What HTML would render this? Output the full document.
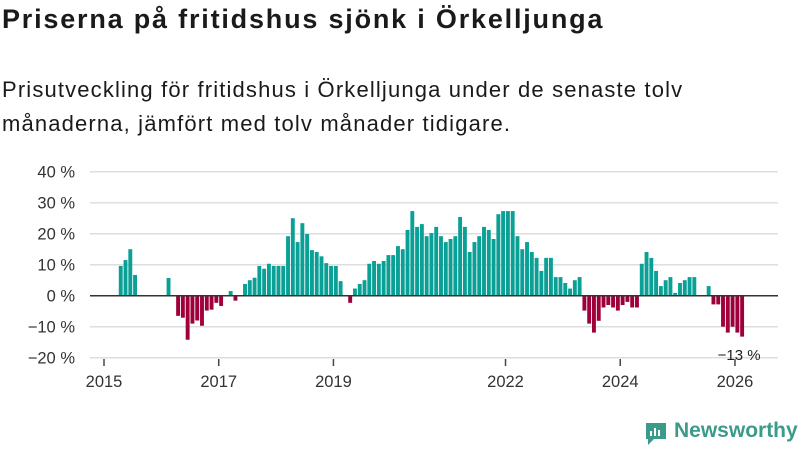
<!DOCTYPE html>
<html><head><meta charset="utf-8"><style>
body{margin:0;width:800px;height:450px;background:#fff;overflow:hidden;font-family:"Liberation Sans","DejaVu Sans",sans-serif;color:#1a1a1a;position:relative}
#title{position:absolute;left:2px;top:4px;font-size:27px;font-weight:bold;margin:0;letter-spacing:1.8px;white-space:nowrap}
#sub{position:absolute;left:2px;top:73px;font-size:22px;line-height:34px;margin:0;width:740px;letter-spacing:1.15px}
svg{position:absolute;left:0;top:0}
#logo{position:absolute;left:644px;top:419px;font-size:21px;font-weight:bold;color:#3b9b8a}
</style></head><body>
<h1 id="title">Priserna på fritidshus sjönk i Örkelljunga</h1>
<p id="sub">Prisutveckling för fritidshus i Örkelljunga under de senaste tolv<br>månaderna, jämfört med tolv månader tidigare.</p>
<svg id="chart" width="800" height="450"></svg>
<div id="logo"><svg width="24" height="26" style="position:absolute;left:0;top:2px"><path d="M2 2h20v16h-12l-6 6v-6h-2z" fill="#3b9b8a"/><rect x="6" y="10" width="2" height="5" fill="#fff"/><rect x="10" y="7" width="2" height="8" fill="#fff"/><rect x="14" y="9" width="2" height="6" fill="#fff"/></svg><span style="margin-left:30px">Newsworthy</span></div>
<script>
// month index 0 = Jan 2015
const monthIdx=[3,4,5,6,13,15,16,17,18,19,20,21,22,23,24,26,27,
29,30,31,32,33,34,35,36,37,38,39,40,41,42,43,44,45,46,47,48,49,51,
52,53,54,55,56,57,58,59,60,61,62,63,64,65,66,67,68,69,70,71,72,73,74,75,76,77,78,79,80,81,82,83,84,85,86,87,88,89,90,91,92,93,94,95,96,97,98,
99,100,101,102,103,104,105,106,107,108,109,110,111,112,113,114,115,116,117,118,119,120,121,122,123,126,127,128,129,130,131,132,133];
const values=[9.6,11.5,15,6.7,5.7,-6.5,-7.1,-14.2,-9,-8,-9.7,-4.8,-4.5,-2.3,-3.3,1.5,-1.6,
3.8,5,5.8,9.6,8.7,10.3,9.6,9.6,9.6,19.2,25,17.3,23.4,19.9,14.7,14.1,12.7,10.5,9.6,9.6,4.7,-2.3,
2.3,3.8,5,10.3,11.2,10.3,11.2,13.1,13.1,16,15,21.2,27.3,22.2,23.1,19.2,20.2,22.2,19.2,17.3,18.3,19.2,25.4,22.2,14.1,17.3,19.2,22.2,21.2,18.3,26.3,27.3,27.3,27.3,19.2,15,17.3,14.1,12.2,8,12.2,12.2,6,6,4.1,2.3,5,
6,-4.8,-9,-11.9,-8.1,-3.8,-3,-3.8,-4.8,-3,-2,-3.8,-3.8,10.3,14.1,12.2,8,3.1,5,6,0.9,4.1,5,6,6,3.1,-2.8,-2.8,-10,-11.9,-10,-11.9,-13.2];
const yTicks=[40,30,20,10,0,-10,-20];
const xTickYears=[2015,2017,2019,2022,2024,2026];
const NS="http://www.w3.org/2000/svg";
const svg=document.getElementById('chart');
const x0=104,mw=4.78,y0=295.7,py=3.1;
const xM=m=>x0+(m+0.5)*mw, xY=yr=>x0+(yr-2015)*12*mw, y=v=>y0-v*py;
function mk(t,a){const e=document.createElementNS(NS,t);for(const k in a)e.setAttribute(k,a[k]);svg.appendChild(e);return e;}
yTicks.forEach(v=>{
 const l=mk('line',{x1:90,x2:778,y1:y(v),y2:y(v),stroke:'#dedede','stroke-width':1.5});
 
 
 const t=mk('text',{x:75,y:y(v)+6,'text-anchor':'end','font-size':16.5,fill:'#333'});
 t.textContent=(v<0?'−'+(-v):v)+' %';
 
 
});
xTickYears.forEach(yr=>{
 const l=mk('line',{x1:xY(yr),x2:xY(yr),y1:359,y2:366,stroke:'#444','stroke-width':1.5});
 
 
 const t=mk('text',{x:xY(yr),y:387,'text-anchor':'middle','font-size':16.5,fill:'#333'});
 t.textContent=yr;
 
 
});
values.forEach((v,i)=>{
 const cx=xM(monthIdx[i]);
 const r=mk('rect',{x:cx-1.95,width:3.9,y:Math.min(y(v),y0),height:Math.abs(v)*py,fill:v>=0?'#0aa096':'#a0003a'});
 
 
});
const z=mk('line',{x1:90,x2:778,y1:y0,y2:y0,stroke:'#333','stroke-width':1.5});


const last=values.length-1;
const lb=mk('text',{x:xM(monthIdx[last])-3,y:360,'text-anchor':'middle','font-size':15,fill:'#222'});
lb.textContent='−13 %';


</script>
</body></html>
